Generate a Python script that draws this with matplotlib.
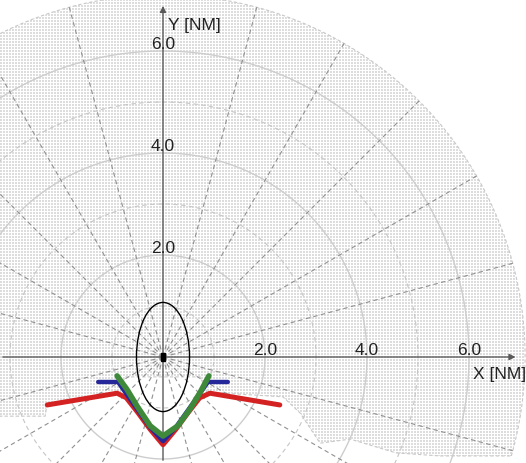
import numpy as np
import matplotlib
matplotlib.use('Agg')
import matplotlib.pyplot as plt
from matplotlib.patches import Ellipse, Rectangle, Polygon

plt.rcParams['font.family'] = ['Liberation Sans', 'DejaVu Sans']

# ---- data (NM) ----
red_x = [-2.27, -0.90, -0.72, -0.50, -0.25, 0.0, 0.25, 0.50, 0.72, 0.92, 2.29]
red_y = [-0.94, -0.71, -0.80, -1.08, -1.42, -1.72, -1.42, -1.08, -0.80, -0.71, -0.94]

blue_x = [-1.27, -0.88, -0.72, -0.50, -0.25, 0.0, 0.25, 0.50, 0.72, 0.88, 1.27]
blue_y = [-0.49, -0.49, -0.72, -1.03, -1.38, -1.65, -1.38, -1.03, -0.72, -0.49, -0.49]

green_x = [-0.90, -0.71, -0.51, -0.25, 0.0, 0.29, 0.53, 0.73, 0.90]
green_y = [-0.37, -0.63, -0.96, -1.35, -1.55, -1.35, -1.02, -0.69, -0.37]

# lower edge of the shaded area (left to right)
shade_x = [-7.2, -2.31, -2.27, -0.84, -0.75, 0.73, 0.86, 2.35, 2.69, 3.08, 3.67, 4.57, 5.43, 6.83]
shade_y = [-1.16, -1.16, -0.90, -0.69, -0.39, -0.39, -0.69, -0.78, -1.10, -1.69, -1.61, -1.88, -1.94, -1.94]
shade_r = 7.1

ell_w, ell_h = 1.04, 2.14          # domain ellipse
ship_w, ship_h = 0.08, 0.16

tick_vals = [2.0, 4.0, 6.0]

# ---- figure ----
W, H = 526, 464
fig = plt.figure(figsize=(W / 100, H / 100), dpi=100)
ax = fig.add_axes([0, 0, 1, 1])
x0, x1 = -163 / 51, 363 / 51
y0, y1 = -106 / 51, 358 / 51
ax.set_xlim(x0, x1)
ax.set_ylim(y0, y1)
ax.axis('off')

# shaded area: arc on top, irregular edge below
a_start = np.arctan2(shade_y[-1], shade_x[-1])
ang = np.linspace(a_start, np.pi, 200)
px = list(shade_r * np.cos(ang)) + [-7.2] + shade_x
py = list(shade_r * np.sin(ang)) + [0.0] + shade_y
poly = Polygon(np.column_stack([px, py]), closed=True, facecolor='none',
               edgecolor='#c8c8c8', lw=0.8, ls=(0, (3, 2)), zorder=0.5)
ax.add_patch(poly)

# dotted texture clipped to the area
tex = np.ones((H, W, 3))
ii, jj = np.mgrid[0:H, 0:W]
dots = (ii % 3 != 2) & (jj % 3 != 2)
tex[dots] = 0.87
img = ax.imshow(tex, extent=(x0, x1, y0, y1), origin='upper',
                interpolation='nearest', zorder=0, aspect='auto')
img.set_clip_path(poly)

# polar grid
t = np.linspace(0, 2 * np.pi, 400)
for r in [1, 2, 3, 4, 5, 6]:
    if r % 2 == 0:
        ax.plot(r * np.cos(t), r * np.sin(t), color='#cdcdcd', lw=1.0, zorder=1)
    else:
        ax.plot(r * np.cos(t), r * np.sin(t), color='#c6c6c6', lw=0.8,
                ls=(0, (4, 3)), zorder=1)
for deg in range(0, 360, 15):
    if deg % 90 == 0:
        continue
    a = np.radians(deg)
    ax.plot([0, shade_r * np.cos(a)], [0, shade_r * np.sin(a)],
            color='#909090', lw=0.8, ls=(0, (4, 3)), zorder=1.2)

# axes with arrows
ax.annotate('', xy=(x1 - 0.15, 0), xytext=(x0, 0),
            arrowprops=dict(arrowstyle='-|>', color='#5a5a5a', lw=1.0,
                            mutation_scale=9), zorder=2)
ax.annotate('', xy=(0, y1 - 0.08), xytext=(0, y0),
            arrowprops=dict(arrowstyle='-|>', color='#5a5a5a', lw=1.0,
                            mutation_scale=9), zorder=2)

# ellipse and ship
ax.add_patch(Ellipse((0, 0), ell_w, ell_h, fill=False, edgecolor='black',
                     lw=1.0, zorder=3))
ax.add_patch(Rectangle((-ship_w / 2, -ship_h / 2), ship_w, ship_h,
                       color='black', zorder=7))

# curves
ax.plot(red_x, red_y, color='#d42222', lw=3.6, solid_capstyle='round',
        solid_joinstyle='round', zorder=4)
ax.plot(blue_x, blue_y, color='#26289a', lw=3.2, solid_capstyle='round',
        solid_joinstyle='round', zorder=5)
ax.plot(green_x, green_y, color='#3f8a3a', lw=4.0, solid_capstyle='round',
        solid_joinstyle='round', zorder=6)

# tick labels
for v in tick_vals:
    ax.text(v, 0.0, '%.1f' % v, ha='center', va='bottom', fontsize=12.5,
            color='#222222', zorder=8)
    ax.text(0.0, v, '%.1f' % v, ha='center', va='bottom', fontsize=12.5,
            color='#222222', zorder=8)
ax.text(0.1, 6.52, 'Y [NM]', ha='left', va='center', fontsize=12.5,
        color='#222222', zorder=8)
ax.text(x1, -0.33, 'X [NM]', ha='right', va='center', fontsize=12.5,
        color='#222222', zorder=8)

fig.savefig('out.png', dpi=100)
